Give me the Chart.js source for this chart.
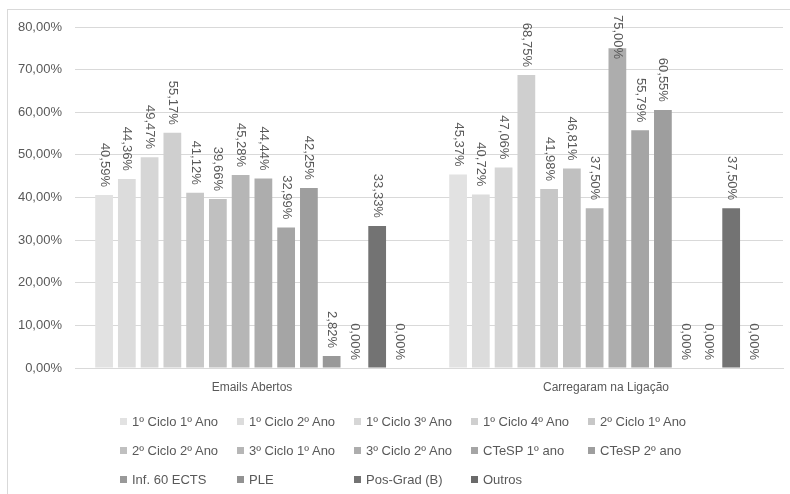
<!DOCTYPE html>
<html>
<head>
<meta charset="utf-8">
<script src="https://cdn.jsdelivr.net/npm/chart.js@4"></script>
<style>
  body { margin: 0; background: #fff; }
  #wrap { position: relative; width: 790px; height: 494px; overflow: hidden; }
  #frame { position: absolute; left: 7px; top: 9px; width: 800px; height: 500px; border-left: 1px solid #d9d9d9; border-top: 1px solid #d9d9d9; }
  #legend { position: absolute; left: 120px; top: 414px; width: 600px; font: 13px "Liberation Sans", Arial, sans-serif; color: #595959; }
  .item { position: absolute; white-space: nowrap; line-height: 16px; }
  .box { display: inline-block; width: 7px; height: 7px; margin-right: 5px; vertical-align: 1px; }
</style>
</head>
<body>
<div id="wrap">
  <div id="frame"></div>
  <canvas id="myChart" width="790" height="494" style="position:absolute;left:0;top:0"></canvas>
  <div id="legend"></div>
</div>
<script>
// Sample data
const categories = ['Emails Abertos', 'Carregaram na Ligação'];
const seriesNames = ['1º Ciclo 1º Ano', '1º Ciclo 2º Ano', '1º Ciclo 3º Ano', '1º Ciclo 4º Ano', '2º Ciclo 1º Ano',
  '2º Ciclo 2º Ano', '3º Ciclo 1º Ano', '3º Ciclo 2º Ano', 'CTeSP 1º ano', 'CTeSP 2º ano',
  'Inf. 60 ECTS', 'PLE', 'Pos-Grad (B)', 'Outros'];
const emailsAbertos = [40.59, 44.36, 49.47, 55.17, 41.12, 39.66, 45.28, 44.44, 32.99, 42.25, 2.82, 0.00, 33.33, 0.00];
const carregaram = [45.37, 40.72, 47.06, 68.75, 41.98, 46.81, 37.50, 75.00, 55.79, 60.55, 0.00, 0.00, 37.50, 0.00];
const yTicks = [0, 10, 20, 30, 40, 50, 60, 70, 80];

const colors = ['#e2e2e2', '#dcdcdc', '#d6d6d6', '#cfcfcf', '#c7c7c7', '#c0c0c0', '#b6b6b6',
  '#adadad', '#a5a5a5', '#9e9e9e', '#999999', '#929292', '#737373', '#6a6a6a'];

const fmt = v => v.toFixed(2).replace('.', ',') + '%';
const FONT = '"Liberation Sans", Arial, sans-serif';

// value labels, rotated, above each bar (pushed down if they would leave the chart)
const barLabels = {
  id: 'barLabels',
  afterDatasetsDraw(chart) {
    const ctx = chart.ctx;
    ctx.save();
    ctx.font = '13px ' + FONT;
    ctx.fillStyle = '#595959';
    ctx.textAlign = 'right';
    ctx.textBaseline = 'middle';
    chart.data.datasets.forEach((ds, i) => {
      chart.getDatasetMeta(i).data.forEach((bar, j) => {
        const txt = fmt(ds.data[j]);
        const w = ctx.measureText(txt).width;
        let end = bar.y - 8;
        if (end - w < 15) end = 15 + w;
        ctx.save();
        ctx.translate(bar.x, end);
        ctx.rotate(Math.PI / 2);
        ctx.fillText(txt, 0, 0);
        ctx.restore();
      });
    });
    ctx.restore();
  }
};

const ctx = document.getElementById('myChart').getContext('2d');
const myChart = new Chart(ctx, {
  type: 'bar',
  data: {
    labels: categories,
    datasets: seriesNames.map((name, i) => ({
      label: name,
      data: [emailsAbertos[i], carregaram[i]],
      backgroundColor: colors[i],
      borderWidth: 0,
      categoryPercentage: 0.9,
      barPercentage: 0.78
    }))
  },
  options: {
    responsive: false,
    animation: false,
    layout: { padding: { top: 27, right: 7, bottom: 96, left: 0 } },
    plugins: { legend: { display: false }, tooltip: { enabled: false } },
    scales: {
      x: {
        grid: { display: false },
        border: { display: true, color: '#d9d9d9' },
        ticks: { color: '#595959', font: { family: FONT, size: 12 }, padding: 4 },
        afterFit: s => { s.height = 30; }
      },
      y: {
        min: 0,
        max: 80,
        afterBuildTicks: s => { s.ticks = yTicks.map(v => ({ value: v })); },
        grid: { color: '#d9d9d9', drawTicks: false },
        border: { display: false },
        ticks: { color: '#595959', font: { family: FONT, size: 13 }, padding: 13, callback: v => fmt(v) },
        afterFit: s => { s.width = 75; }
      }
    }
  },
  plugins: [barLabels]
});

// legend in fixed columns like the original
const legend = document.getElementById('legend');
seriesNames.forEach((name, i) => {
  const el = document.createElement('div');
  el.className = 'item';
  el.style.left = (i % 5) * 117 + 'px';
  el.style.top = Math.floor(i / 5) * 29 + 'px';
  el.innerHTML = '<span class="box" style="background:' + colors[i] + '"></span>' + name;
  legend.appendChild(el);
});
</script>
</body>
</html>
